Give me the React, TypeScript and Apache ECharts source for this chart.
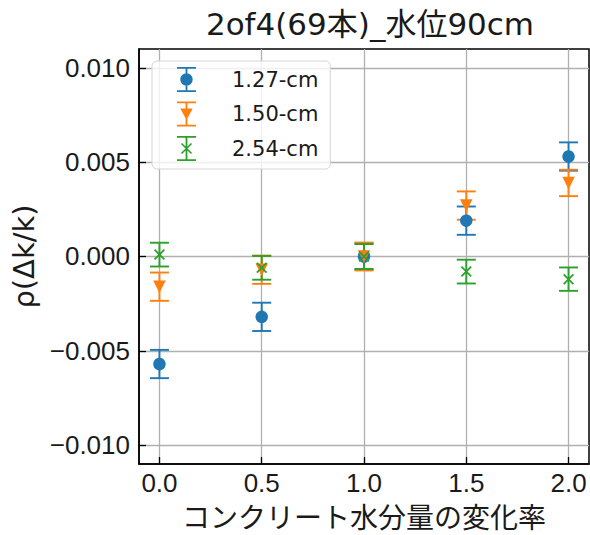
import React, { useEffect, useRef } from "react";
import * as echarts from "echarts";

const xValues = [0, 0.5, 1.0, 1.5, 2.0];
const s127 = [-0.0057, -0.0032, 0.0, 0.0019, 0.0053];
const e127 = [0.00075, 0.00075, 0.0007, 0.00075, 0.00075];
const s150 = [-0.0016, -0.0007, 0.0, 0.0027, 0.0039];
const e150 = [0.00075, 0.00075, 0.00074, 0.00075, 0.0007];
const s254 = [0.0001, -0.0006, 0.0, -0.0008, -0.0012];
const e254 = [0.00063, 0.00063, 0.00066, 0.00063, 0.00062];
const seriesNames = ["1.27-cm", "1.50-cm", "2.54-cm"];
const xTicks = [0, 0.5, 1.0, 1.5, 2.0];
const yTicks = [-0.01, -0.005, 0, 0.005, 0.01];

const colors = ["#1f77b4", "#ff7f0e", "#2ca02c"];

const CJK = '"Noto Sans CJK JP", "Noto Sans", sans-serif';
const WIDE = '"DejaVu Sans", "Noto Sans CJK JP", sans-serif';
const LATIN = '"Liberation Sans", Arial, sans-serif';

const barPath =
  "M0,0 H19 V1.7 H0 Z M0,23.3 H19 V25 H0 Z M8.6,0 H10.4 V25 H8.6 Z ";
const legendIcons = [
  "path://" + barPath + "M3.3,12.5 A6.2,6.2 0 1,1 15.7,12.5 A6.2,6.2 0 1,1 3.3,12.5 Z",
  "path://" + barPath + "M3.3,7 H15.7 L9.5,18.5 Z",
  "path://" +
    barPath +
    "M5.07,6.93 L15.07,16.93 L13.93,18.07 L3.93,8.07 Z M13.93,6.93 L15.07,8.07 L5.07,18.07 L3.93,16.93 Z",
];
const markerX =
  "path://M1.14,0 L10,8.86 L8.86,10 L0,1.14 Z M8.86,0 L10,1.14 L1.14,10 L0,8.86 Z";

function errData(vals: number[], errs: number[]) {
  return xValues.map((x, i) => [x, vals[i] - errs[i], vals[i] + errs[i]]);
}
function ptData(vals: number[]) {
  return xValues.map((x, i) => [x, vals[i]]);
}

function errorSeries(name: string, vals: number[], errs: number[], color: string) {
  return {
    type: "custom",
    name: "err-" + name,
    data: errData(vals, errs),
    encode: { x: 0, y: [1, 2] },
    renderItem: (params: any, api: any) => {
      const x = api.value(0);
      const lo = api.coord([x, api.value(1)]);
      const hi = api.coord([x, api.value(2)]);
      const hw = 9.5;
      const style = { stroke: color, lineWidth: 1.9, fill: "none" };
      return {
        type: "group",
        children: [
          { type: "line", shape: { x1: lo[0], y1: lo[1], x2: hi[0], y2: hi[1] }, style },
          { type: "line", shape: { x1: lo[0] - hw, y1: lo[1], x2: lo[0] + hw, y2: lo[1] }, style },
          { type: "line", shape: { x1: hi[0] - hw, y1: hi[1], x2: hi[0] + hw, y2: hi[1] }, style },
        ],
      };
    },
  };
}

export default function App() {
  const ref = useRef<HTMLDivElement>(null);
  useEffect(() => {
    if (!ref.current) return;
    const chart = echarts.init(ref.current, undefined, { renderer: "svg" });
    const fmt = (v: number) => {
      const s = Math.abs(v).toFixed(3);
      return v < -1e-12 ? "\u2212" + s : s;
    };
    chart.setOption({
      animation: false,
      backgroundColor: "#ffffff",
      title: {
        text: "2of4(69本)_水位90cm",
        left: 365,
        top: 3,
        textAlign: "center",
        textStyle: { fontFamily: WIDE, fontSize: 31, fontWeight: "normal", color: "#1a1a1a" },
      },
      grid: {
        left: 139,
        top: 49,
        right: 1,
        bottom: 70,
        containLabel: false,
        show: true,
        borderColor: "#000",
        borderWidth: 1.5,
        backgroundColor: "transparent",
      },
      legend: {
        data: seriesNames.map((n, i) => ({ name: n, icon: legendIcons[i] })),
        orient: "vertical",
        left: 152,
        top: 61,
        padding: [6, 12, 8, 25],
        itemWidth: 19,
        itemHeight: 25,
        itemGap: 9.5,
        borderColor: "#d5d5d5",
        borderWidth: 1,
        borderRadius: 5,
        backgroundColor: "rgba(255,255,255,0.8)",
        textStyle: { fontFamily: WIDE, fontSize: 21, color: "#1a1a1a", padding: [0, 0, 0, 31] },
      },
      xAxis: {
        type: "value",
        min: -0.1,
        max: 2.1,
        name: "コンクリート水分量の変化率",
        nameLocation: "middle",
        nameGap: 38,
        nameTextStyle: { fontFamily: CJK, fontSize: 28, color: "#1a1a1a" },
        axisLine: { show: true, onZero: false, lineStyle: { color: "#000", width: 1.5 } },
        axisTick: { show: true, inside: true, length: 7, customValues: xTicks, lineStyle: { color: "#000", width: 1.3 } },
        axisLabel: {
          customValues: xTicks,
          fontFamily: LATIN,
          fontSize: 26,
          color: "#1a1a1a",
          margin: 6,
          formatter: (v: number) => v.toFixed(1),
        },
        splitLine: { show: true, lineStyle: { color: "#b0b0b0", width: 1.3 } },
      },
      yAxis: {
        type: "value",
        min: -0.011,
        max: 0.011,
        name: "ρ(Δk/k)",
        nameLocation: "middle",
        nameRotate: 90,
        nameGap: 96,
        nameTextStyle: { fontFamily: WIDE, fontSize: 29, color: "#1a1a1a" },
        axisLine: { show: true, onZero: false, lineStyle: { color: "#000", width: 1.5 } },
        axisTick: { show: true, inside: true, length: 7, customValues: yTicks, lineStyle: { color: "#000", width: 1.3 } },
        axisLabel: {
          customValues: yTicks,
          fontFamily: LATIN,
          fontSize: 26,
          color: "#1a1a1a",
          margin: 9,
          formatter: fmt,
        },
        splitLine: { show: true, lineStyle: { color: "#b0b0b0", width: 1.3 } },
      },
      series: [
        errorSeries(seriesNames[0], s127, e127, colors[0]),
        {
          type: "scatter",
          name: seriesNames[0],
          data: ptData(s127),
          symbol: "circle",
          symbolSize: 12.5,
          itemStyle: { color: colors[0], opacity: 1 },
        },
        errorSeries(seriesNames[1], s150, e150, colors[1]),
        {
          type: "scatter",
          name: seriesNames[1],
          data: ptData(s150),
          symbol: "triangle",
          symbolRotate: 180,
          symbolSize: 12.5,
          itemStyle: { color: colors[1], opacity: 1 },
        },
        errorSeries(seriesNames[2], s254, e254, colors[2]),
        {
          type: "scatter",
          name: seriesNames[2],
          data: ptData(s254),
          symbol: markerX,
          symbolSize: 11,
          itemStyle: { color: colors[2], opacity: 1 },
        },
      ],
    });
    return () => chart.dispose();
  }, []);
  return (
    <div
      ref={ref}
      style={{ position: "fixed", left: 0, top: 0, width: 590, height: 535 }}
    />
  );
}
